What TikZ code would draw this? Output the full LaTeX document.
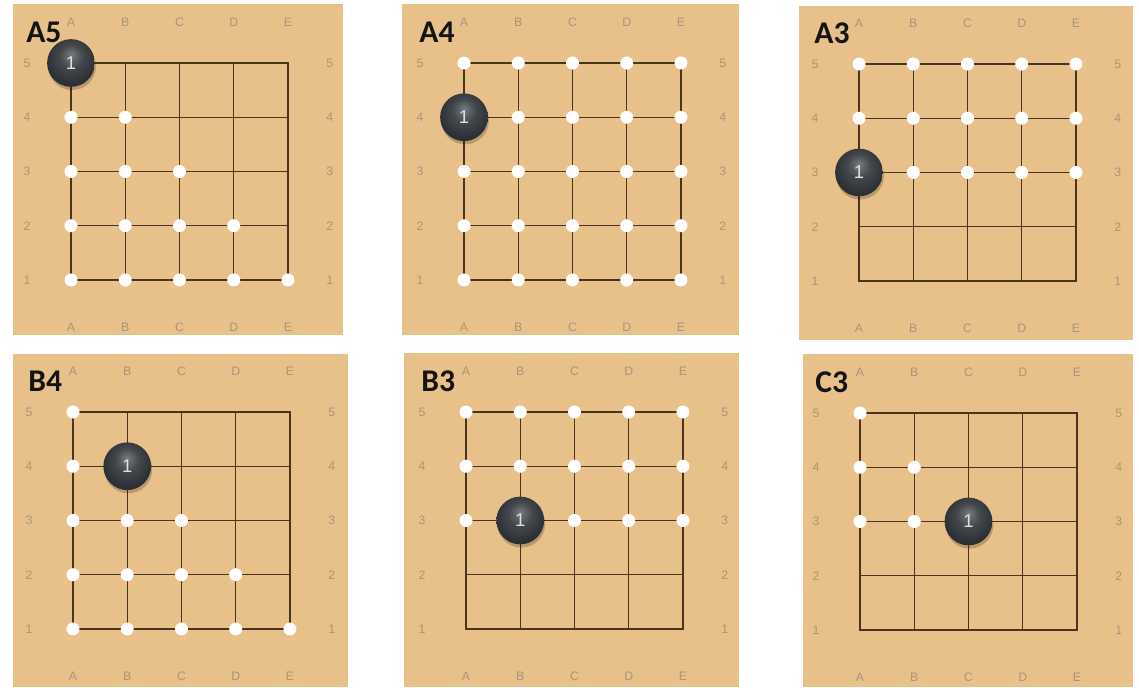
\documentclass[tikz,border=0pt]{standalone}
\usepackage{fontspec}
\setsansfont{Liberation Sans}
\newfontfamily\labelfont{Carlito}
\definecolor{wood}{HTML}{E7C08A}
\definecolor{gridln}{HTML}{4A341E}
\definecolor{coord}{HTML}{A8967A}
\definecolor{stone}{HTML}{45494E}
\definecolor{stonehi}{HTML}{767B80}
\definecolor{stonelo}{HTML}{2C2F33}
\definecolor{ink}{HTML}{141414}
\pgfdeclareradialshading{stoneball}{\pgfpoint{0bp}{9bp}}{color(0bp)=(stonehi); color(12bp)=(stone); color(26bp)=(stonelo); color(50bp)=(stonelo)}

% board: #1 title, #2/#3 wood corners (px), #4,#5 point A5 (px), #6/#7 stone, #8 free points
\newcommand{\goboard}[8]{%
  \fill[wood] (#2) rectangle (#3);
  \begin{scope}[shift={(#4,#5)},x=1.085cm,y=1.085cm,shift={(-1,-5)}]
    \foreach \i in {2,3,4} {
      \draw[gridin] (1,\i) -- (5,\i);
      \draw[gridin] (\i,1) -- (\i,5);
    }
    \draw[gridout] (1,1) rectangle (5,5);
    \foreach \c/\l in {1/A,2/B,3/C,4/D,5/E} {
      \node[coordlbl] (#1-top-\l) at (\c,5.76) {\l};
      \node[coordlbl] (#1-bot-\l) at (\c,0.13) {\l};
      \node[coordlbl] (#1-left-\c) at (0.19,\c) {\c};
      \node[coordlbl] (#1-right-\c) at (5.77,\c) {\c};
    }
    \foreach \p/\q in {#8} \fill[freept] (\p,\q) circle (0.12);
    \fill[black,opacity=0.2] (#6+0.02,#7-0.06) circle (0.44);
    \shade[shading=stoneball] (#6,#7) circle (0.44);
    \node[stonenum] (#1-stone) at (#6,#7) {1};
    \node[boardtitle,anchor=base west] (#1-title) at (0.17,5.37) {#1};
  \end{scope}}

\begin{document}
\begin{tikzpicture}[x=0.02cm,y=-0.02cm,
  gridin/.style={gridln,line width=0.7pt},
  gridout/.style={gridln,line width=1.4pt},
  coordlbl/.style={font=\sffamily\fontsize{7}{8}\selectfont,text=coord,inner sep=0pt},
  freept/.style={white},
  stonenum/.style={font=\sffamily\fontsize{10.5}{12}\selectfont,text=white!88!black,inner sep=0pt},
  boardtitle/.style={font=\labelfont\bfseries\fontsize{18}{21}\selectfont,text=ink,inner sep=0pt}]
  \useasboundingbox (0,0) rectangle (1139,687);

  % ===== top row =====
  \goboard{A5}{13,4}{343,335}{71}{63}{1}{5}{1/4,2/4,1/3,2/3,3/3,1/2,2/2,3/2,4/2,1/1,2/1,3/1,4/1,5/1}
  \goboard{A4}{402,4}{739,335}{464}{63}{1}{4}{1/5,2/5,3/5,4/5,5/5,2/4,3/4,4/4,5/4,1/3,2/3,3/3,4/3,5/3,1/2,2/2,3/2,4/2,5/2,1/1,2/1,3/1,4/1,5/1}
  \goboard{A3}{799,6}{1133,340}{859}{64}{1}{3}{1/5,2/5,3/5,4/5,5/5,1/4,2/4,3/4,4/4,5/4,2/3,3/3,4/3,5/3}

  % ===== bottom row =====
  \goboard{B4}{13,354}{348,687}{73}{412}{2}{4}{1/5,1/4,1/3,2/3,3/3,1/2,2/2,3/2,4/2,1/1,2/1,3/1,4/1,5/1}
  \goboard{B3}{404,353}{739,687}{466}{412}{2}{3}{1/5,2/5,3/5,4/5,5/5,1/4,2/4,3/4,4/4,5/4,1/3,3/3,4/3,5/3}
  \goboard{C3}{803,354}{1133,687}{860}{413}{3}{3}{1/5,1/4,2/4,1/3,2/3}
\end{tikzpicture}
\end{document}
